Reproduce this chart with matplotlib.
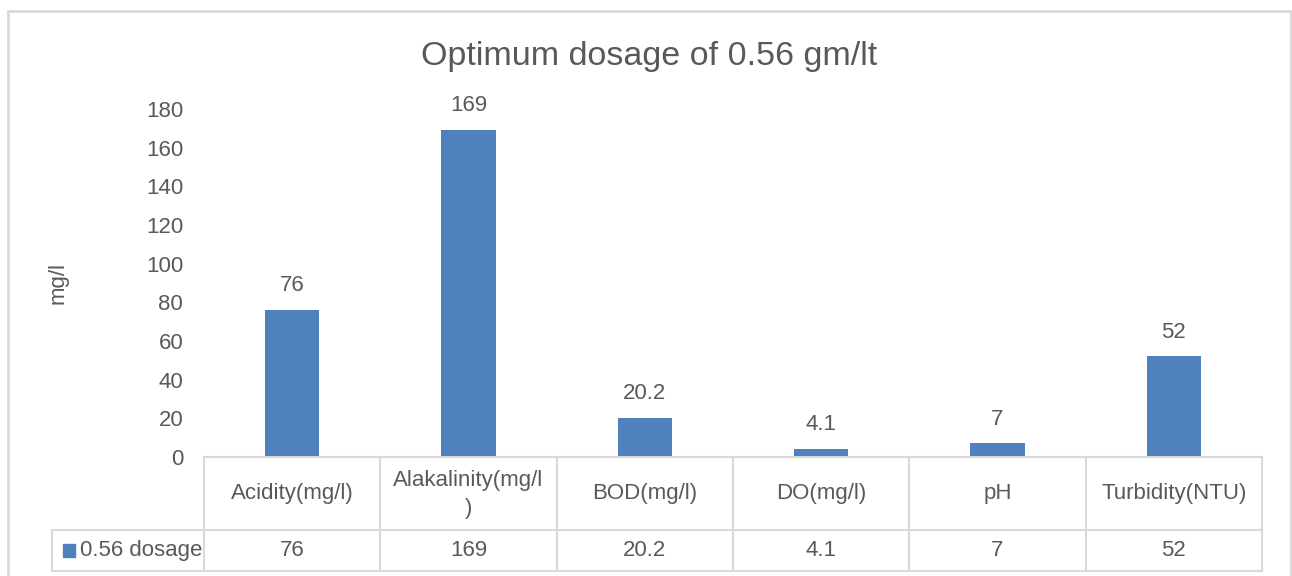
import matplotlib.pyplot as plt
import matplotlib.transforms as mtransforms
from matplotlib.patches import Rectangle
from matplotlib.lines import Line2D

categories = ['Acidity(mg/l)', 'Alakalinity(mg/l\n)', 'BOD(mg/l)', 'DO(mg/l)', 'pH', 'Turbidity(NTU)']
values = [76, 169, 20.2, 4.1, 7, 52]
value_labels = ['76', '169', '20.2', '4.1', '7', '52']
series_name = '0.56 dosage'

bar_color = '#4f81bd'
text_color = '#595959'
grid_color = '#d9d9d9'

plt.rcParams['font.family'] = ['Liberation Sans', 'DejaVu Sans']
fs = 16

W, H = 1292, 576
fig = plt.figure(figsize=(W / 100, H / 100), dpi=100)

# outer chart border
fig.add_artist(Rectangle((8 / W, -0.01), (1291 - 8) / W, (H - 11) / H + 0.01,
                         transform=fig.transFigure, fill=False,
                         edgecolor=grid_color, linewidth=2))

ax = fig.add_axes([204 / W, (H - 457) / H, (1262 - 204) / W, (457 - 109) / H])
n = len(categories)
x = list(range(n))
ax.bar(x, values, width=0.31, color=bar_color, zorder=2)
ax.set_xlim(-0.5, n - 0.5)
ax.set_ylim(0, 180)
ax.set_yticks(range(0, 181, 20))
ax.tick_params(axis='y', length=0, labelsize=fs, colors=text_color, pad=15)
ax.tick_params(axis='x', bottom=False, labelbottom=False)
for s in ax.spines.values():
    s.set_visible(False)

for xi, v, lab in zip(x, values, value_labels):
    ax.annotate(lab, (xi, v), xytext=(0, 10), textcoords='offset points',
                ha='center', va='bottom', fontsize=fs, color=text_color)

ax.set_ylabel('mg/l', fontsize=fs, color=text_color)
ax.yaxis.set_label_coords(-0.128, 0.5)
fig.text(649 / W, 1 - 56 / H, 'Optimum dosage of 0.56 gm/lt', ha='center', va='center',
         fontsize=24.5, color=text_color)

# data table below the axis
blend = mtransforms.blended_transform_factory(ax.transData, ax.transAxes)
row1 = -73 / 348
row2 = -114 / 348
legend_left = -0.5 - (204 - 52) / ((1262 - 204) / n)

def hline(x0, x1, y):
    ax.add_line(Line2D([x0, x1], [y, y], transform=blend, color=grid_color,
                       linewidth=1.5, clip_on=False))

def vline(xv, y0, y1):
    ax.add_line(Line2D([xv, xv], [y0, y1], transform=blend, color=grid_color,
                       linewidth=1.5, clip_on=False))

hline(-0.5, n - 0.5, 0)
hline(legend_left, n - 0.5, row1)
hline(legend_left, n - 0.5, row2)
for i in range(n + 1):
    vline(i - 0.5, 0, row2)
vline(legend_left, row1, row2)

for xi, cat, lab in zip(x, categories, value_labels):
    if '\n' in cat:
        ax.text(xi, -0.038, cat, transform=blend, ha='center', va='top',
                fontsize=fs, color=text_color, linespacing=1.4)
    else:
        ax.text(xi, row1 / 2, cat, transform=blend, ha='center', va='center',
                fontsize=fs, color=text_color)
    ax.text(xi, (row1 + row2) / 2, lab, transform=blend, ha='center', va='center',
            fontsize=fs, color=text_color)

ax.add_patch(Rectangle((legend_left + 0.06, (row1 + row2) / 2 - 0.02), 0.07, 0.04,
                       transform=blend, color=bar_color, clip_on=False))
ax.text(legend_left + 0.16, (row1 + row2) / 2, series_name, transform=blend,
        ha='left', va='center', fontsize=fs, color=text_color)

fig.savefig('out.png', dpi=100)
